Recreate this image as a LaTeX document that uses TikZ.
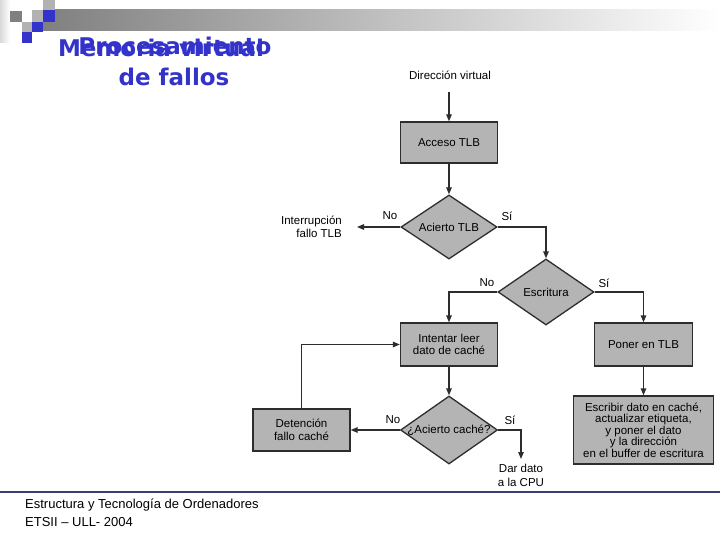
\documentclass[tikz,border=0pt]{standalone}
\usepackage{fontspec}
\setmainfont{Liberation Sans}
\newfontfamily\titlefont{DejaVu Sans}
\usetikzlibrary{arrows.meta,shapes.geometric}
\definecolor{ttlblue}{RGB}{51,51,204}
\definecolor{boxgray}{RGB}{180,180,180}
\definecolor{linegray}{RGB}{45,45,45}
\definecolor{sqdark}{RGB}{128,128,128}
\definecolor{sqlight}{RGB}{178,178,178}
\definecolor{footline}{RGB}{60,60,110}
\begin{document}
\begin{tikzpicture}[x=1pt,y=-1pt,
  flowbox/.style={draw=linegray,line width=1.3pt,fill=boxgray,inner sep=0pt,align=center,font=\fontsize{11.5}{12.5}\selectfont},
  dia/.style={diamond,draw=linegray,line width=1.3pt,fill=boxgray,inner sep=0pt},
  flowtxt/.style={font=\fontsize{11.5}{12.5}\selectfont,align=center,inner sep=0pt},
  arr/.style={draw=linegray,line width=1.3pt,-{Triangle[length=7pt,width=5.5pt]}},
  yn/.style={font=\fontsize{11.5}{12.5}\selectfont,inner sep=0pt},
  ttl/.style={font=\titlefont\bfseries\fontsize{23}{27}\selectfont,text=ttlblue,inner sep=0pt,anchor=base},
  foot/.style={font=\fontsize{13}{18}\selectfont,anchor=base west,inner sep=0pt}]
\useasboundingbox (0,0) rectangle (720,540);
\fill[white] (0,0) rectangle (720,540);
% top decoration
\shade[left color=sqdark,right color=white] (43,10) rectangle (720,31);
\shade[left color=gray!30,right color=white] (0,0) rectangle (10,43);
\fill[sqdark] (10,11) rectangle (22,22);
\fill[sqlight] (22,22) rectangle (32,32);
\fill[ttlblue] (22,32) rectangle (32,43);
\fill[ttlblue] (32,22) rectangle (43,32);
\fill[sqlight] (32,10) rectangle (43,22);
\fill[ttlblue] (43,10) rectangle (55,22);
\fill[sqlight] (43,0) rectangle (55,10);
% title (the two overlapping titles as in the reference)
\node[ttl] (t1) at (161,57) {Memoria virtual};
\node[ttl] (t2) at (175,55) {Procesamiento};
\node[ttl] (t3) at (174,86) {de fallos};
% flowchart
\node[flowtxt] (dir) at (450,75) {Dirección virtual};
\coordinate (dirb) at (449,92);
\node[flowbox,minimum width=97pt,minimum height=41pt] (acc) at (449,142.5) {Acceso TLB};
\node[dia,minimum width=96pt,minimum height=64pt] (d1) at (449,227) {};
\node[flowtxt] at (d1) {Acierto TLB};
\node[flowtxt,align=right,anchor=east] (intr) at (342,227) {Interrupción\\fallo TLB};
\node[dia,minimum width=96pt,minimum height=66pt] (d2) at (546,292) {};
\node[flowtxt] at (d2) {Escritura};
\node[flowbox,minimum width=97pt,minimum height=43pt] (int) at (449,344.5) {Intentar leer\\dato de caché};
\node[flowbox,minimum width=98pt,minimum height=43pt] (pon) at (643.5,344.5) {Poner en TLB};
\node[flowbox,minimum width=140pt,minimum height=68pt,font=\fontsize{11.5}{11.5}\selectfont] (esc) at (643.5,430) {Escribir dato en caché,\\actualizar etiqueta,\\y poner el dato\\y la dirección\\en el buffer de escritura};
\node[dia,minimum width=97pt,minimum height=68pt] (d3) at (449,430) {};
\node[flowtxt] at (d3) {¿Acierto caché?};
\node[flowbox,minimum width=97pt,minimum height=42pt] (det) at (301.5,430) {Detención\\fallo caché};
\node[flowtxt,anchor=north,font=\fontsize{11.5}{14}\selectfont] (dar) at (521,464) {Dar dato\\a la CPU};
% labels
\node[yn] at (390,216) {No};
\node[yn] at (507,216) {Sí};
\node[yn] at (487,283) {No};
\node[yn] at (604,283) {Sí};
\node[yn] at (393,420) {No};
\node[yn] at (510,420) {Sí};
% connectors
\draw[arr] (dirb) -- (acc.north);
\draw[arr] (acc.south) -- (d1.north);
\draw[arr] (d1.west) -- ([xshift=15pt]intr.east);
\draw[arr] (d1.east) -| (d2.north);
\draw[arr] (d2.west) -| (int.north);
\draw[arr] (d2.east) -| (pon.north);
\draw[arr] (int.south) -- (d3.north);
\draw[arr] (pon.south) -- (esc.north);
\draw[arr] (d3.west) -- (det.east);
\draw[arr] (d3.east) -| ([yshift=5pt]dar.north);
\draw[arr] (det.north) |- (int.west);
% footer
\draw[footline,line width=1.2pt] (0,492) -- (720,492);
\node[foot] (f1) at (25,508) {Estructura y Tecnología de Ordenadores};
\node[foot] (f2) at (25,526) {ETSII – ULL- 2004};
\end{tikzpicture}
\end{document}
